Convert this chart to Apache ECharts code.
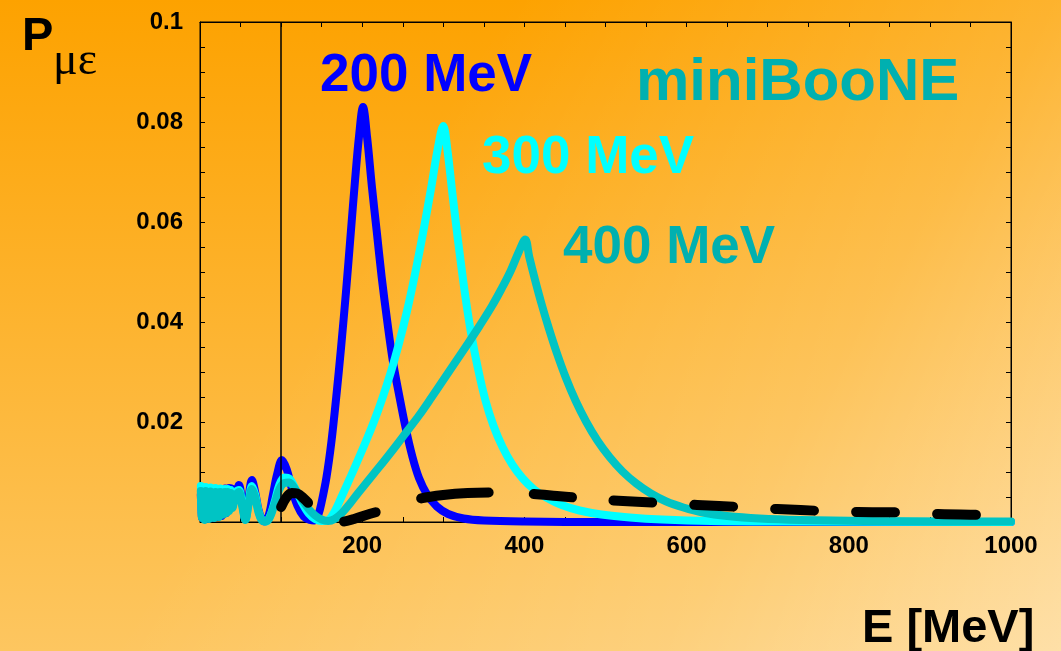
<!DOCTYPE html>
<html>
<head>
<meta charset="utf-8">
<script src="https://cdn.jsdelivr.net/npm/echarts@6/dist/echarts.min.js"></script>
<style>
html,body{margin:0;padding:0;width:1061px;height:651px;overflow:hidden;}
#chart{width:1061px;height:651px;}
</style>
</head>
<body>
<div id="chart"></div>
<script>
// ---- data (E [MeV], P) ----
const curve200 = [[1,0.0055],[2.5,0.0008],[4,0.006],[5.5,0.001],[7,0.0058],[8.5,0.0006],[10,0.0062],[11.5,0.001],[13,0.006],[14.5,0.0008],[16,0.0063],[17.5,0.0012],[19,0.0062],[20.5,0.001],[22,0.0064],[23.5,0.0014],[25,0.0065],[26.5,0.0012],[28,0.0066],[29.5,0.0016],[31,0.0067],[32.5,0.0018],[36,0.0068],[40,0.0066],[44,0.0058],[48,0.0074],[52,0.004],[56,0.0006],[60,0.005],[64,0.0084],[68,0.006],[72,0.0025],[76,0.0006],[80,0.0001],[85,0.0015],[90,0.0055],[95,0.0095],[101,0.0124],[107,0.0105],[113,0.0068],[120,0.0033],[128,0.0011],[136,0.0004],[141,0.0003],[146,0.0015],[150,0.004],[156,0.009],[162,0.016],[168,0.025],[174,0.035],[180,0.046],[186,0.058],[191,0.068],[196,0.077],[201,0.083],[206,0.077],[212,0.067],[218,0.058],[224,0.049],[231,0.04],[238,0.032],[246,0.025],[254,0.0185],[262,0.013],[270,0.0088],[280,0.0055],[292,0.0031],[306,0.0016],[325,0.0007],[350,0.0003],[400,0.0001],[500,0],[700,0],[1000,0]];

const curve300 = [[1,0.0072],[2.5,0.001],[4,0.0068],[5.5,0.0006],[7,0.007],[8.5,0.001],[10,0.0066],[11.5,0.0008],[13,0.0069],[14.5,0.0012],[16,0.0067],[17.5,0.001],[19,0.0068],[20.5,0.0014],[22,0.0066],[23.5,0.0012],[25,0.0067],[26.5,0.0016],[28,0.0066],[29.5,0.0018],[31,0.0066],[32.5,0.002],[34,0.0066],[36,0.0025],[38,0.0064],[40,0.003],[44,0.006],[48,0.0064],[52,0.0035],[56,0.0005],[60,0.004],[64,0.0072],[68,0.0055],[72,0.0022],[76,0.0005],[81,0.0001],[86,0.001],[92,0.004],[98,0.0075],[104,0.0089],[110,0.0087],[118,0.0065],[126,0.0038],[134,0.0017],[142,0.0006],[150,0.0002],[157,0.0003],[165,0.0018],[175,0.0052],[185,0.0088],[195,0.0125],[205,0.0163],[215,0.0203],[225,0.0248],[235,0.0298],[245,0.0355],[255,0.042],[265,0.0495],[275,0.0578],[285,0.0668],[293,0.0745],[300,0.0792],[305,0.0745],[311,0.066],[318,0.0565],[326,0.0465],[334,0.038],[343,0.0305],[352,0.0243],[362,0.0192],[373,0.015],[385,0.0115],[398,0.0087],[412,0.0065],[428,0.0048],[446,0.0034],[468,0.0023],[495,0.0015],[530,0.0009],[570,0.0005],[630,0.0002],[720,0.0001],[1000,0]];

const curve400 = [[1,0.0062],[2.5,0.0008],[4,0.006],[5.5,0.0004],[7,0.0062],[8.5,0.0008],[10,0.0058],[11.5,0.0006],[13,0.0061],[14.5,0.001],[16,0.0059],[17.5,0.0008],[19,0.006],[20.5,0.0012],[22,0.0059],[23.5,0.001],[25,0.006],[26.5,0.0014],[28,0.0059],[29.5,0.0016],[31,0.006],[32.5,0.0018],[34,0.006],[36,0.0022],[38,0.0058],[40,0.0028],[44,0.0054],[48,0.006],[52,0.0032],[56,0.0004],[60,0.0036],[64,0.0066],[68,0.005],[72,0.002],[76,0.0004],[81,0.0001],[86,0.0009],[92,0.0036],[98,0.0066],[104,0.0078],[110,0.0079],[118,0.0064],[126,0.0044],[134,0.0026],[142,0.0013],[150,0.0005],[158,0.0002],[166,0.0006],[175,0.0018],[185,0.0037],[195,0.0058],[205,0.0078],[215,0.0098],[228,0.0124],[242,0.0153],[256,0.0183],[270,0.0213],[285,0.0248],[300,0.0284],[315,0.032],[330,0.0356],[345,0.0393],[360,0.0432],[372,0.0467],[383,0.0502],[393,0.054],[401,0.0565],[406,0.053],[413,0.0485],[421,0.0437],[430,0.0388],[440,0.0338],[451,0.0289],[463,0.0243],[476,0.0201],[490,0.0163],[505,0.013],[521,0.0101],[538,0.0077],[556,0.0057],[575,0.0041],[596,0.0029],[620,0.0019],[650,0.0012],[690,0.0007],[740,0.0004],[820,0.0002],[920,0.0001],[1000,0.0001]];

const curveAvg = [[100,0.003],[106,0.0048],[113,0.0058],[120,0.0057],[128,0.0047],[137,0.0032],[145,0.0018],[155,0.0007],[165,0.0002],[177,0.0001],[190,0.0006],[205,0.0014],[226,0.0024],[250,0.0036],[272,0.0047],[300,0.0054],[330,0.0058],[360,0.0059],[390,0.0058],[411,0.0056],[440,0.0052],[469,0.0048],[510,0.0043],[568,0.0038],[613,0.0034],[667,0.003],[712,0.0026],[769,0.0022],[811,0.002],[868,0.0019],[910,0.0016],[967,0.0014],[1000,0.0013]];

const thresholdE = 100;
const xLabelValues = [200, 400, 600, 800, 1000];
const yLabelValues = [0.02, 0.04, 0.06, 0.08, 0.1];
const curveLabels = ['200 MeV', '300 MeV', '400 MeV'];
const experiment = 'miniBooNE';

const FONT = '"Liberation Sans", Arial, Helvetica, sans-serif';
const chart = echarts.init(document.getElementById('chart'), null, {renderer: 'canvas'});

function lineSeries(data, color, width) {
  return {
    type: 'line', data: data, showSymbol: false, symbol: 'none',
    smooth: 0.35, animation: false, silent: true,
    lineStyle: {color: color, width: width, cap: 'round', join: 'round'},
    xAxisIndex: 0, yAxisIndex: 0
  };
}

const axisCommon = {
  type: 'value', splitLine: {show: false},
  axisLine: {show: true, onZero: false, lineStyle: {color: '#000', width: 1}},
  axisTick: {show: true, inside: true, length: 5, lineStyle: {color: '#000', width: 1}}
};

// dash pattern of the averaged curve (pixels along the path)
const avgDash = [38, 42.5, 33, 47.5, 68, 45, 38.5, 41.5, 39, 42, 39, 42, 39, 42, 39, 42, 39, 42, 39, 42, 39, 42, 39, 42];

const option = {
  animation: false,
  backgroundColor: {
    type: 'linear', x: 0, y: 0, x2: 0, y2: 1,
    colorStops: [
      {offset: 0, color: '#fda200'},
      {offset: 1, color: '#fdc660'}
    ]
  },
  grid: {left: 200, right: 50, top: 22, bottom: 129, show: true, borderColor: '#000', borderWidth: 1, backgroundColor: 'transparent'},
  xAxis: [
    Object.assign({}, axisCommon, {
      min: 0, max: 1000, interval: 50, position: 'bottom',
      axisLabel: {
        show: true, margin: 12, color: '#000', fontFamily: FONT, fontWeight: 'bold', fontSize: 24,
        formatter: function (v) { return xLabelValues.indexOf(Math.round(v)) >= 0 ? String(Math.round(v)) : ''; }
      }
    }),
    Object.assign({}, axisCommon, {min: 0, max: 1000, interval: 50, position: 'top', axisLabel: {show: false}})
  ],
  yAxis: [
    Object.assign({}, axisCommon, {
      min: 0, max: 0.1, interval: 0.005, position: 'left',
      axisLabel: {
        show: true, margin: 17, color: '#000', fontFamily: FONT, fontWeight: 'bold', fontSize: 24,
        formatter: function (v) {
          const r = Math.round(v * 1000);
          for (const lv of yLabelValues) { if (Math.round(lv * 1000) === r) return String(lv); }
          return '';
        }
      }
    }),
    Object.assign({}, axisCommon, {min: 0, max: 0.1, interval: 0.005, position: 'right', axisLabel: {show: false}})
  ],
  series: [
    lineSeries(curve200, '#0000ff', 8),
    lineSeries(curve300, '#00ffff', 8),
    lineSeries(curve400, '#00c4c4', 8),
    {
      type: 'line', data: [], xAxisIndex: 0, yAxisIndex: 0, silent: true,
      markLine: {
        silent: true, animation: false, symbol: ['none', 'none'], label: {show: false},
        lineStyle: {color: '#000', width: 1.5, type: 'solid'},
        data: [{xAxis: thresholdE}]
      }
    },
    {
      type: 'line', data: curveAvg, showSymbol: false, symbol: 'none',
      smooth: 0.35, silent: true,
      lineStyle: {color: '#000', width: 10, type: avgDash, cap: 'round', join: 'round'}
    }
  ],
  graphic: [
    {type: 'rect', z: -100, silent: true, shape: {x: 0, y: 0, width: 1061, height: 651},
      style: {fill: {type: 'linear', x: 0, y: 0, x2: 1, y2: 1, colorStops: [
        {offset: 0, color: 'rgba(255,255,255,0)'},
        {offset: 0.35, color: 'rgba(255,255,255,0)'},
        {offset: 0.726, color: 'rgba(255,255,255,0.18)'},
        {offset: 1, color: 'rgba(255,255,255,0.45)'}
      ]}}},
    {type: 'text', x: 320, y: 76, silent: true, style: {text: curveLabels[0], fill: '#0000ff', font: 'bold 53px ' + FONT, textAlign: 'left', textVerticalAlign: 'middle'}},
    {type: 'text', x: 482, y: 158, silent: true, style: {text: curveLabels[1], fill: '#00ffff', font: 'bold 53px ' + FONT, textAlign: 'left', textVerticalAlign: 'middle'}},
    {type: 'text', x: 563, y: 248, silent: true, style: {text: curveLabels[2], fill: '#00b0b0', font: 'bold 53px ' + FONT, textAlign: 'left', textVerticalAlign: 'middle'}},
    {type: 'text', x: 636, y: 83, silent: true, style: {text: experiment, fill: '#00b0b0', font: 'bold 60px ' + FONT, textAlign: 'left', textVerticalAlign: 'middle'}},
    {type: 'text', x: 22, y: 37, silent: true, style: {text: 'P', fill: '#000', font: 'bold 47px ' + FONT, textAlign: 'left', textVerticalAlign: 'middle'}},
    {type: 'text', x: 53, y: 62, silent: true, style: {text: 'με', fill: '#000', font: '46px "Liberation Serif", "DejaVu Serif", serif', textAlign: 'left', textVerticalAlign: 'middle'}},
    {type: 'text', x: 862, y: 629, silent: true, style: {text: 'E [MeV]', fill: '#000', font: 'bold 47px ' + FONT, textAlign: 'left', textVerticalAlign: 'middle'}}
  ]
};
chart.setOption(option);
</script>
</body>
</html>
